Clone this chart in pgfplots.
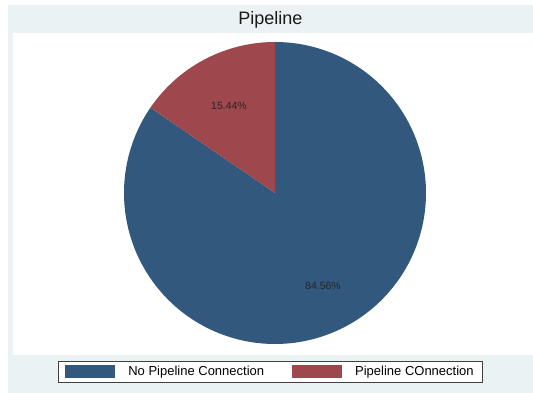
\documentclass[border=0pt]{standalone}
\usepackage{pgfplots}
\usepackage{pgfplotstable}
\pgfplotsset{compat=1.18}
\usepackage{fontspec}
\setmainfont{Liberation Sans}
\definecolor{piebl}{RGB}{50,88,125}
\definecolor{piered}{RGB}{158,72,78}
\definecolor{bggray}{RGB}{234,242,243}
\pgfplotstableread{
share label
84.56 {No Pipeline Connection}
15.44 {Pipeline COnnection}
}\piedata
\pgfplotstablegetelem{0}{share}\of\piedata \let\vA\pgfplotsretval
\pgfplotstablegetelem{1}{share}\of\piedata \let\vB\pgfplotsretval
\pgfmathsetmacro{\aStart}{90}
\pgfmathsetmacro{\aMid}{90-\vA*3.6}
\pgfmathsetmacro{\aEnd}{\aMid-\vB*3.6}
\begin{document}
\begin{tikzpicture}
\useasboundingbox (0,0) rectangle (533pt,393pt);
\fill[white] (0,0) rectangle (533pt,393pt);
\fill[bggray] (8pt,0) rectangle (533pt,388pt);
\node[font=\fontsize{18}{20}\selectfont, text=black!90] at (270.5pt,373pt) {Pipeline};
\begin{axis}[
  at={(13pt,38pt)}, anchor=south west,
  scale only axis, width=520pt, height=322pt,
  xmin=13, xmax=533, ymin=38, ymax=360,
  axis lines=none, ticks=none,
  axis background/.style={fill=white},
  clip=false,
  legend columns=2,
  legend style={at={(axis cs:270.5,21)}, anchor=center, draw=black!75, fill=white,
    font=\fontsize{13}{15}\selectfont, inner xsep=7pt, inner ysep=3pt,
    /tikz/every odd column/.append style={column sep=11pt},
    /tikz/every even column/.append style={column sep=26pt}},
  legend image code/.code={\fill[#1] (0pt,-6.5pt) rectangle (50pt,6.5pt);},
]
\addplot[fill=piebl, draw=none, domain=\aStart:\aMid, samples=240]
  ({275+151*cos(x)},{200+151*sin(x)}) -- (axis cs:275,200) -- cycle;
\addlegendentry{No Pipeline Connection}
\addplot[fill=piered, draw=none, domain=\aMid:\aEnd, samples=80]
  ({275+151*cos(x)},{200+151*sin(x)}) -- (axis cs:275,200) -- cycle;
\addlegendentry{Pipeline COnnection}
\node[font=\fontsize{10.5}{12}\selectfont, text=black!85] at (axis cs:229,287) {15.44\%};
\node[font=\fontsize{10.5}{12}\selectfont, text=black!85] at (axis cs:323,107) {84.56\%};
\end{axis}
\end{tikzpicture}
\end{document}
